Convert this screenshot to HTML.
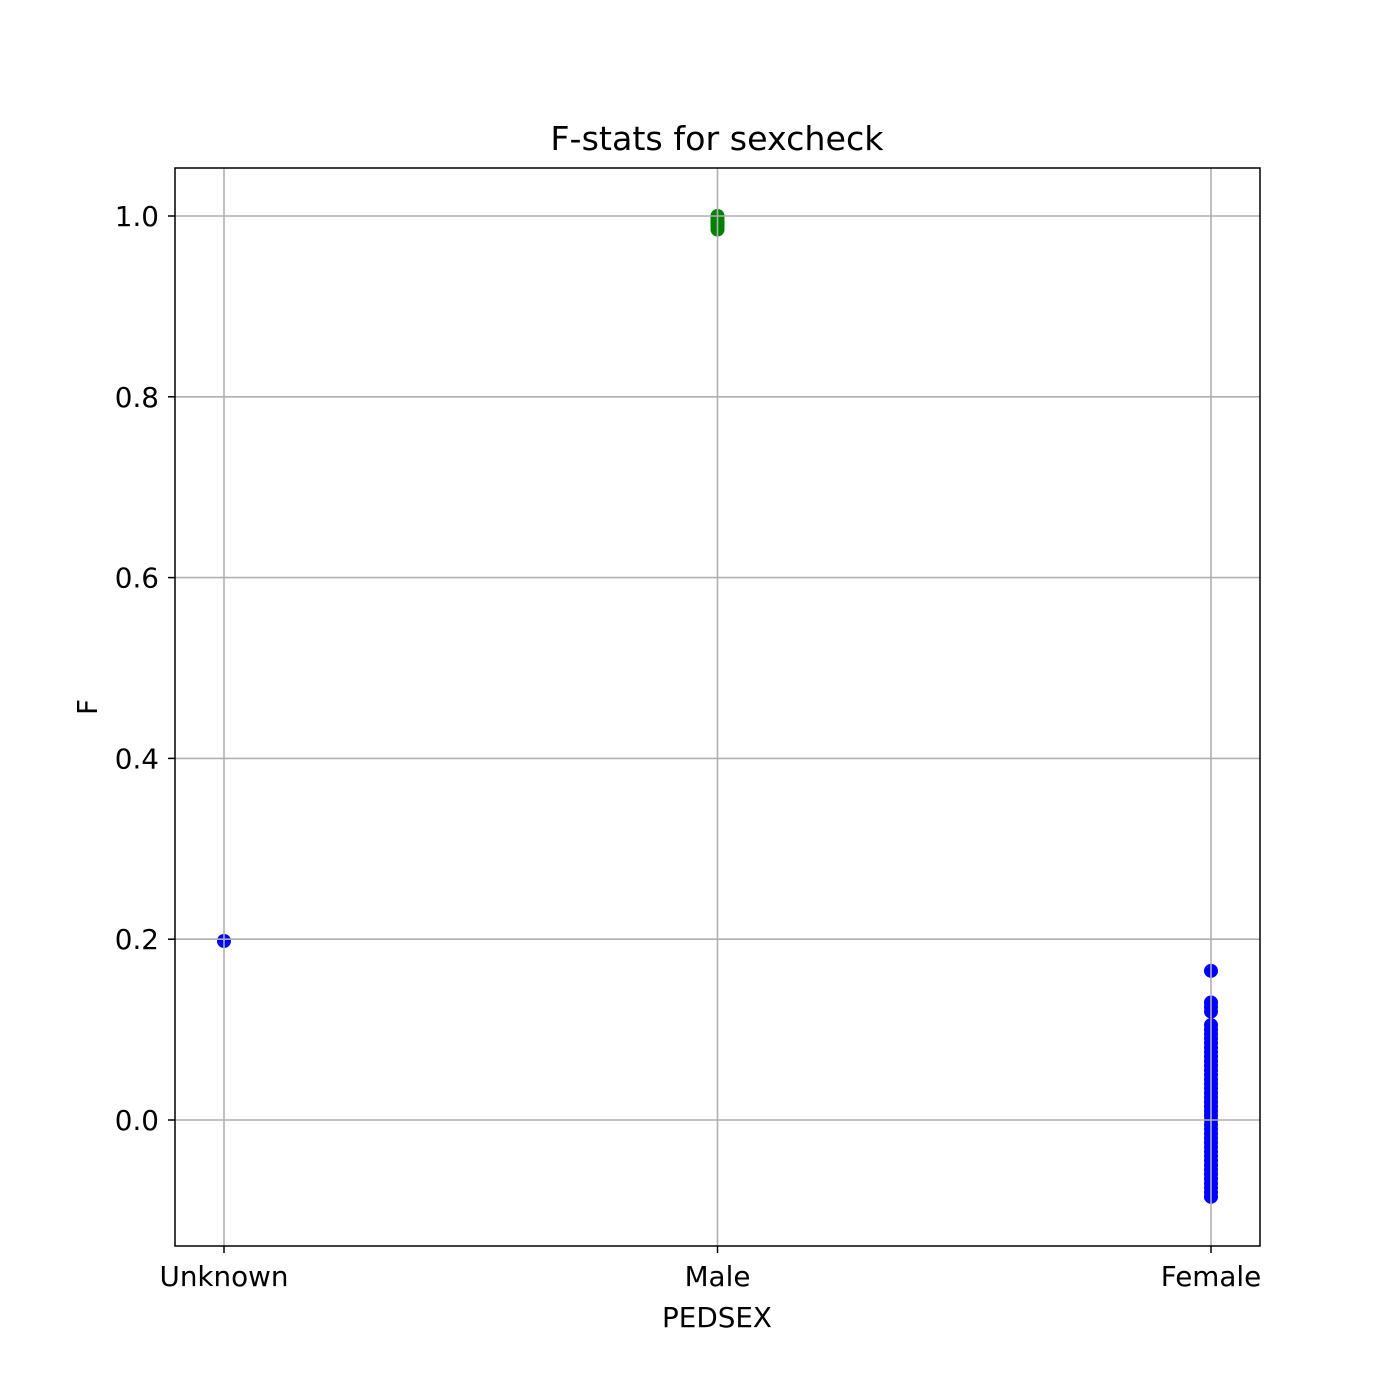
<!DOCTYPE html>
<html><head><meta charset="utf-8"><style>
html,body{margin:0;padding:0;background:#fff;}
svg{display:block;font-family:"DejaVu Sans","Liberation Sans",sans-serif;}
</style></head><body>
<svg id="chart" width="1400" height="1400" viewBox="0 0 1400 1400">
<rect width="1400" height="1400" fill="#fff"/>
<text x="717" y="150" font-size="33.3" text-anchor="middle">F-stats for sexcheck</text>
<g id="points"></g>
<g id="grid"></g>
<rect x="175" y="168" width="1085" height="1078" fill="none" stroke="#000" stroke-width="1.5"/>
<g id="ticks"></g>
<text x="717" y="1327" font-size="27.8" text-anchor="middle">PEDSEX</text>
<text x="97" y="707" font-size="27.8" text-anchor="middle" transform="rotate(-90 97 707)">F</text>
</svg>
<script>
const categories = ["Unknown","Male","Female"];
const yTicks = [0.0,0.2,0.4,0.6,0.8,1.0];
const yTickLabels = ["0.0","0.2","0.4","0.6","0.8","1.0"];
const unknownValues = [0.198];
const maleValues = [1.0,0.998,0.995,0.992,0.99,0.988,0.985];
const femaleValues = [0.165,0.13,0.125,0.12,0.105,0.1,0.095,0.09,0.085,0.08,0.075,0.07,0.065,0.06,0.055,0.05,0.045,0.04,0.035,0.03,0.025,0.02,0.015,0.01,0.005,0.0,-0.005,-0.01,-0.015,-0.02,-0.025,-0.03,-0.035,-0.04,-0.045,-0.05,-0.055,-0.06,-0.065,-0.07,-0.075,-0.08,-0.085];
const NS="http://www.w3.org/2000/svg";
const x0=175,x1=1260,y0=168,y1=1246;
function xScale(i){return 224+i*(1211-224)/2;}
function yScale(v){return 1120-v*904;}
function mk(tag,attrs,parent){const e=document.createElementNS(NS,tag);for(const k in attrs)e.setAttribute(k,attrs[k]);parent.appendChild(e);return e;}
const grid=document.getElementById('grid'),ticks=document.getElementById('ticks'),pts=document.getElementById('points');
yTicks.forEach((v,i)=>{const y=yScale(v);
 const g=mk('line',{x1:x0,x2:x1,y1:y,y2:y,stroke:'#b0b0b0','stroke-width':1.6},grid);
 
 
 const t=mk('line',{x1:x0-7,x2:x0,y1:y,y2:y,stroke:'#000','stroke-width':1.5},ticks);
 
 
 const l=mk('text',{x:x0-16,y:y+10,'font-size':27.8,'text-anchor':'end'},ticks);l.textContent=yTickLabels[i];
 
 
});
categories.forEach((c,i)=>{const x=xScale(i);
 const g=mk('line',{x1:x,x2:x,y1:y0,y2:y1,stroke:'#b0b0b0','stroke-width':1.6},grid);
 
 
 const t=mk('line',{x1:x,x2:x,y1:y1,y2:y1+7,stroke:'#000','stroke-width':1.5},ticks);
 
 
 const l=mk('text',{x:x,y:1286,'font-size':27.8,'text-anchor':'middle'},ticks);l.textContent=c;
 
 
});
function plot(vals,i,color,name){vals.forEach(v=>{
 const c=mk('circle',{cx:xScale(i),cy:yScale(v),r:7,fill:color},pts);
 
 
});}
plot(unknownValues,0,'#0000ff','unknown-point');
plot(maleValues,1,'#008000','male-point');
plot(femaleValues,2,'#0000ff','female-point');
</script>
</body></html>
